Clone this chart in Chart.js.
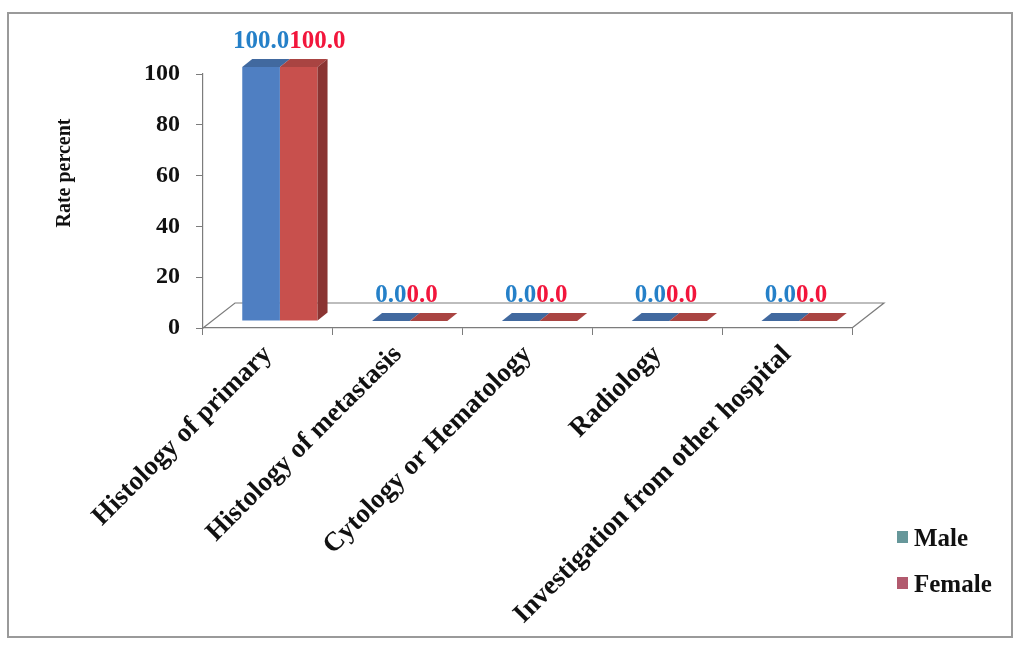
<!DOCTYPE html>
<html>
<head>
<meta charset="utf-8">
<script src="https://cdn.jsdelivr.net/npm/chart.js@4.4.0/dist/chart.umd.min.js"></script>
<style>
  html, body { margin: 0; padding: 0; background: #fff; }
  #wrap { width: 1020px; height: 646px; }
</style>
</head>
<body>
<div id="wrap"><canvas id="rateChart" width="1020" height="646"></canvas></div>
<script>
// Data
const categories = ["Histology of primary", "Histology of metastasis", "Cytology or Hematology", "Radiology", "Investigation from other hospital"];
const maleRate = [100, 0, 0, 0, 0];
const femaleRate = [100, 0, 0, 0, 0];
const seriesNames = ["Male", "Female"];
const yMin = 0, yMax = 100, yStep = 20;
const yTitle = "Rate percent";

const serif = "'Liberation Serif', 'Times New Roman', serif";

// 3D look: bars sit a bit back on the floor, and have a short depth
const shift = { x: 12, y: -7 };
const depth = { x: 10, y: -8 };
const floorDepth = { x: 32, y: -25 };

const frontColors = ["#4f7fc2", "#c8504d"];
const topColors = ["#41699f", "#a94442"];
const sideColors = ["#34568a", "#8a3432"];
const labelColors = ["#2580c8", "#f2163c"];
const legendColors = ["#66979a", "#b25a6e"];

// frame + white background
const framePlugin = {
  id: "frame",
  beforeDraw(chart) {
    const ctx = chart.ctx;
    ctx.save();
    ctx.fillStyle = "#fff";
    ctx.fillRect(0, 0, chart.width, chart.height);
    ctx.strokeStyle = "#9a9a9a";
    ctx.lineWidth = 2;
    ctx.strokeRect(8, 13, 1004, 624);
    ctx.restore();
  }
};

// floor, shifted bars, and their top/side faces
const bars3d = {
  id: "bars3d",
  beforeDatasetsDraw(chart) {
    const ctx = chart.ctx;
    const a = chart.chartArea;
    ctx.save();
    ctx.beginPath();
    ctx.moveTo(a.left, a.bottom);
    ctx.lineTo(a.left + floorDepth.x, a.bottom + floorDepth.y);
    ctx.lineTo(a.right + floorDepth.x, a.bottom + floorDepth.y);
    ctx.lineTo(a.right, a.bottom);
    ctx.strokeStyle = "#7c7c7c";
    ctx.lineWidth = 1.2;
    ctx.stroke();
    ctx.restore();
    ctx.save();
    ctx.translate(shift.x, shift.y);
  },
  afterDatasetsDraw(chart) {
    const ctx = chart.ctx;
    chart.data.datasets.forEach((ds, di) => {
      const meta = chart.getDatasetMeta(di);
      meta.data.forEach(bar => {
        const x1 = bar.x - bar.width / 2, x2 = bar.x + bar.width / 2;
        const top = Math.min(bar.y, bar.base), bottom = Math.max(bar.y, bar.base);
        // top face
        ctx.beginPath();
        ctx.moveTo(x1, top);
        ctx.lineTo(x1 + depth.x, top + depth.y);
        ctx.lineTo(x2 + depth.x, top + depth.y);
        ctx.lineTo(x2, top);
        ctx.closePath();
        ctx.fillStyle = topColors[di];
        ctx.fill();
        // side face only on the right-hand series
        if (di === chart.data.datasets.length - 1 && bottom - top > 0) {
          ctx.beginPath();
          ctx.moveTo(x2, top);
          ctx.lineTo(x2 + depth.x, top + depth.y);
          ctx.lineTo(x2 + depth.x, bottom + depth.y);
          ctx.lineTo(x2, bottom);
          ctx.closePath();
          ctx.fillStyle = sideColors[di];
          ctx.fill();
        }
      });
    });
    ctx.restore();

    // value labels: male centred on its bar, female right after it
    ctx.save();
    ctx.font = "bold 25px " + serif;
    ctx.textBaseline = "alphabetic";
    const male = chart.getDatasetMeta(0).data;
    const female = chart.getDatasetMeta(1).data;
    male.forEach((bar, i) => {
      const mText = chart.data.datasets[0].data[i].toFixed(1);
      const fText = chart.data.datasets[1].data[i].toFixed(1);
      const top = Math.min(bar.y, female[i].y);
      const y = top + shift.y + depth.y - 11;
      const cx = bar.x + shift.x;
      const mw = ctx.measureText(mText).width;
      ctx.fillStyle = labelColors[0];
      ctx.textAlign = "center";
      ctx.fillText(mText, cx, y);
      ctx.fillStyle = labelColors[1];
      ctx.textAlign = "left";
      ctx.fillText(fText, cx + mw / 2, y);
    });
    ctx.restore();
  }
};

// y axis title and legend
const extras = {
  id: "extras",
  afterDraw(chart) {
    const ctx = chart.ctx;
    ctx.save();
    ctx.fillStyle = "#111";
    ctx.font = "bold 20px " + serif;
    ctx.translate(65, 173);
    ctx.rotate(-Math.PI / 2);
    ctx.textAlign = "center";
    ctx.textBaseline = "middle";
    ctx.fillText(yTitle, 0, 0);
    ctx.restore();

    ctx.save();
    ctx.font = "bold 25px " + serif;
    ctx.textBaseline = "alphabetic";
    ctx.textAlign = "left";
    chart.data.datasets.forEach((ds, i) => {
      const base = 546 + i * 46;
      ctx.fillStyle = legendColors[i];
      ctx.fillRect(897, base - 15, 11, 12);
      ctx.fillStyle = "#111";
      ctx.fillText(ds.label, 914, base);
    });
    ctx.restore();
  }
};

new Chart(document.getElementById("rateChart"), {
  type: "bar",
  data: {
    labels: categories,
    datasets: [
      { label: seriesNames[0], data: maleRate, backgroundColor: frontColors[0], borderWidth: 0, clip: false },
      { label: seriesNames[1], data: femaleRate, backgroundColor: frontColors[1], borderWidth: 0, clip: false }
    ]
  },
  options: {
    responsive: false,
    animation: false,
    devicePixelRatio: 1,
    layout: { padding: { top: 74, right: 168, left: 0, bottom: 0 } },
    categoryPercentage: 0.58,
    barPercentage: 1,
    plugins: { legend: { display: false }, tooltip: { enabled: false } },
    scales: {
      x: {
        grid: { drawOnChartArea: false, tickLength: 7, color: "#7c7c7c" },
        border: { color: "#7c7c7c", width: 1.2 },
        ticks: {
          autoSkip: false, minRotation: 45, maxRotation: 45, padding: 4,
          color: "#111", font: { family: serif, size: 27, weight: "bold" }
        },
        afterFit(scale) { scale.height = 318; }
      },
      y: {
        min: yMin, max: yMax,
        grid: { drawOnChartArea: false, tickLength: 7, color: "#7c7c7c" },
        border: { color: "#7c7c7c", width: 1.2 },
        ticks: {
          stepSize: yStep, padding: 16,
          color: "#111", font: { family: serif, size: 24, weight: "bold" }
        },
        afterFit(scale) { scale.width = 203; }
      }
    }
  },
  plugins: [framePlugin, bars3d, extras]
});
</script>
</body>
</html>
